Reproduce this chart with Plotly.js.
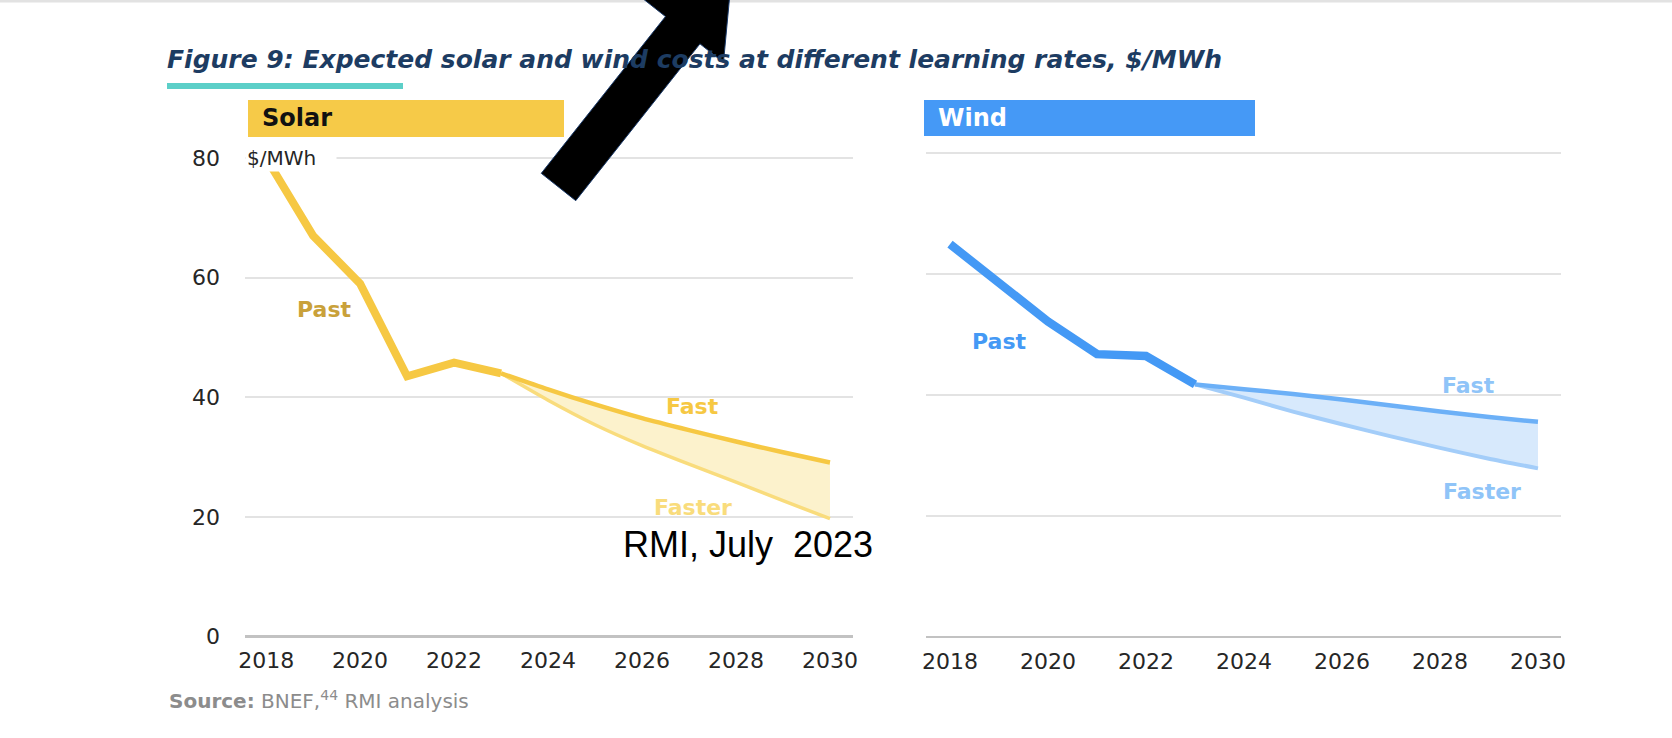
<!DOCTYPE html>
<html>
<head>
<meta charset="utf-8">
<script src="https://cdn.plot.ly/plotly-3.0.1.min.js"></script>
<style>
  html, body { margin: 0; padding: 0; background: #ffffff; }
  #chart { width: 1672px; height: 738px; }
</style>
</head>
<body>
<div id="chart"></div>
<script>
// ---------------- data ----------------
const pastYears = [2018, 2019, 2020, 2021, 2022, 2023];
const futureYears = [2023, 2024, 2025, 2026, 2027, 2028, 2029, 2030];

const solarPast = [80, 67, 59, 43.5, 45.8, 44];
const solarFast = [44, 41.3, 38.8, 36.5, 34.5, 32.6, 30.8, 29.1];
const solarFaster = [44, 39.5, 35.4, 31.9, 28.8, 25.8, 22.7, 19.7];

const windPast = [65.0, 58.5, 52.2, 46.8, 46.5, 41.8];
const windFast = [41.8, 41.0, 40.2, 39.3, 38.3, 37.3, 36.4, 35.6];
const windFaster = [41.8, 39.6, 37.3, 35.2, 33.2, 31.3, 29.5, 27.9];

const xTicks = [2018, 2020, 2022, 2024, 2026, 2028, 2030];
const yTicks = [0, 20, 40, 60, 80];

const titleText = "Figure 9: Expected solar and wind costs at different learning rates, $/MWh";
const panelNames = ["Solar", "Wind"];
const seriesNames = ["Past", "Fast", "Faster"];
const unitLabel = "$/MWh";
const sourceText = "<b>Source:</b> BNEF,<sup>44</sup> RMI analysis";
const stampText = "RMI, July\u00a0 2023";

// ---------------- helpers (pixel -> paper) ----------------
const W = 1672, H = 738;
const px = x => x / W;
const py = y => 1 - y / H;

// ---------------- traces ----------------
const SOLAR = "#f6c843", SOLAR_LIGHT = "#f9dc7c", SOLAR_FILL = "#fcf2cc", SOLAR_DARK = "#c9a13a";
const WIND = "#4499f5", WIND_MID = "#6cb0f7", WIND_LIGHT = "#a3cdf9", WIND_FILL = "#d7e9fc", WIND_LABEL = "#8fc4f8";

const traces = [
  {x: futureYears, y: solarFaster, xaxis: "x", yaxis: "y", mode: "lines",
   line: {color: SOLAR_LIGHT, width: 3.5, shape: "spline", smoothing: 0.6}, name: "Solar Faster"},
  {x: futureYears, y: solarFast, xaxis: "x", yaxis: "y", mode: "lines", fill: "tonexty", fillcolor: SOLAR_FILL,
   line: {color: SOLAR, width: 4.5, shape: "spline", smoothing: 0.6}, name: "Solar Fast"},
  {x: pastYears, y: solarPast, xaxis: "x", yaxis: "y", mode: "lines",
   line: {color: SOLAR, width: 8}, name: "Solar Past"},

  {x: futureYears, y: windFaster, xaxis: "x2", yaxis: "y2", mode: "lines",
   line: {color: WIND_LIGHT, width: 4, shape: "spline", smoothing: 0.6}, name: "Wind Faster"},
  {x: futureYears, y: windFast, xaxis: "x2", yaxis: "y2", mode: "lines", fill: "tonexty", fillcolor: WIND_FILL,
   line: {color: WIND_MID, width: 4.5, shape: "spline", smoothing: 0.6}, name: "Wind Fast"},
  {x: pastYears, y: windPast, xaxis: "x2", yaxis: "y2", mode: "lines",
   line: {color: WIND, width: 8.5}, name: "Wind Past"}
];

// ---------------- axes ----------------
const tickFont = {family: "DejaVu Sans, Liberation Sans, Arial, sans-serif", size: 22, color: "#262626"};
const gridC = "#e3e3e3";
const yLow = -1.5, yHigh = 83;

function xAxis(domain, range) {
  return {domain: domain, range: range, tickvals: xTicks, ticktext: xTicks.map(String),
    showgrid: false, zeroline: false, showline: false, ticks: "", tickfont: tickFont, fixedrange: true};
}
function yAxis(domain, anchor, showLabels) {
  return {domain: domain, anchor: anchor, range: [yLow, yHigh], tickvals: yTicks,
    showgrid: true, gridcolor: gridC, gridwidth: 2, zeroline: true, zerolinecolor: "#c2c2c2", zerolinewidth: 2.5,
    showline: false, ticks: "", showticklabels: showLabels, tickfont: tickFont, ticklabelstandoff: 24, fixedrange: true};
}

// solar: 0 at y=636.5, 80 at y=158 ; wind: 0 at 637, 80 at 153.5
const sU = 478.5 / 80, wU = 483.5 / 80;
const solarY = [py(636.5 - yLow * sU), py(158 - (yHigh - 80) * sU)];
const windY = [py(637 - yLow * wU), py(153.5 - (yHigh - 80) * wU)];

// arrow geometry (overlay)
const tailC = [558.5, 187], u = [0.621, -0.784], n = [0.784, 0.621];
const halfW = 22, shaft = 200, headHalf = 52, headL = 80;
const pt = (s, t) => [tailC[0] + s * u[0] + t * n[0], tailC[1] + s * u[1] + t * n[1]];
const arrowPts = [pt(0, -halfW), pt(shaft, -halfW), pt(shaft, -headHalf), pt(shaft + headL, 0),
                  pt(shaft, headHalf), pt(shaft, halfW), pt(0, halfW)];
const arrowPath = "M " + arrowPts.map(p => px(p[0]).toFixed(5) + "," + py(p[1]).toFixed(5)).join(" L ") + " Z";

const labelFont = (c, s) => ({family: "DejaVu Sans, Liberation Sans, Arial, sans-serif", size: s || 22, color: c, weight: "bold"});

function label(text, x, y, font, extra) {
  return Object.assign({text: text, xref: "paper", yref: "paper", x: px(x), y: py(y),
    xanchor: "center", yanchor: "middle", showarrow: false, font: font}, extra || {});
}

const annotations = [
  // panel headers
  label("<b>" + panelNames[0] + "</b>", 260, 118, {family: "DejaVu Sans, Arial, sans-serif", size: 24, color: "#111111"}, {xanchor: "left"}),
  label("<b>" + panelNames[1] + "</b>", 936, 118, {family: "DejaVu Sans, Arial, sans-serif", size: 24, color: "#ffffff"}, {xanchor: "left"}),
  // unit label covering grid start
  label(unitLabel, 245, 158, {family: "DejaVu Sans, Arial, sans-serif", size: 20, color: "#262626"},
        {xanchor: "left", bgcolor: "#ffffff", width: 88, align: "left", borderpad: 1}),
  // series labels solar
  label(seriesNames[0], 324, 309, labelFont(SOLAR_DARK)),
  label(seriesNames[1], 692, 407, labelFont(SOLAR)),
  label(seriesNames[2], 693, 507, labelFont(SOLAR_LIGHT)),
  // series labels wind
  label(seriesNames[0], 999, 341, labelFont(WIND)),
  label(seriesNames[1], 1468, 386, labelFont(WIND_LABEL)),
  label(seriesNames[2], 1482, 491, labelFont(WIND_LABEL)),
  // source
  label(sourceText, 167, 700, {family: "DejaVu Sans, sans-serif", size: 20, color: "#8c8c8c"}, {xanchor: "left"}),
  // stamp
  label(stampText, 748, 544, {family: "Liberation Sans, Arial, sans-serif", size: 36, color: "#000000"})
];

const shapes = [
  // top grey rule
  {type: "line", xref: "paper", yref: "paper", x0: 0, x1: 1, y0: py(1), y1: py(1), line: {color: "#e2e2e2", width: 3}},
  // teal underline
  {type: "rect", xref: "paper", yref: "paper", x0: px(167), x1: px(403), y0: py(89), y1: py(83), fillcolor: "#5ccfc8", line: {width: 0}},
  // header boxes
  {type: "rect", xref: "paper", yref: "paper", x0: px(248), x1: px(564), y0: py(137), y1: py(100), fillcolor: "#f6ca48", line: {width: 0}, layer: "below"},
  {type: "rect", xref: "paper", yref: "paper", x0: px(924), x1: px(1255), y0: py(136), y1: py(100), fillcolor: "#4599f6", line: {width: 0}, layer: "below"},
  // overlay arrow
  {type: "path", xref: "paper", yref: "paper", path: arrowPath, fillcolor: "#000000", line: {color: "#1a3a6a", width: 1}}
];

const layout = {
  width: W, height: H,
  margin: {l: 0, r: 0, t: 0, b: 0},
  paper_bgcolor: "#ffffff", plot_bgcolor: "rgba(0,0,0,0)",
  showlegend: false, hovermode: false,
  title: {text: titleText, x: px(167), xanchor: "left", xref: "paper",
          y: py(59), yanchor: "middle", yref: "container",
          font: {family: "DejaVu Sans, Open Sans, sans-serif", size: 25, color: "#1d3c62", weight: "bold", style: "italic"}},
  xaxis: xAxis([px(245), px(853)], [2017.55, 2030.49]),
  yaxis: yAxis(solarY, "x", true),
  xaxis2: xAxis([px(926), px(1561)], [2017.51, 2030.47]),
  yaxis2: yAxis(windY, "x2", false),
  annotations: annotations,
  shapes: shapes
};
layout.xaxis.anchor = "y";
layout.xaxis2.anchor = "y2";

Plotly.newPlot("chart", traces, layout, {staticPlot: true, displayModeBar: false});
</script>
</body>
</html>
